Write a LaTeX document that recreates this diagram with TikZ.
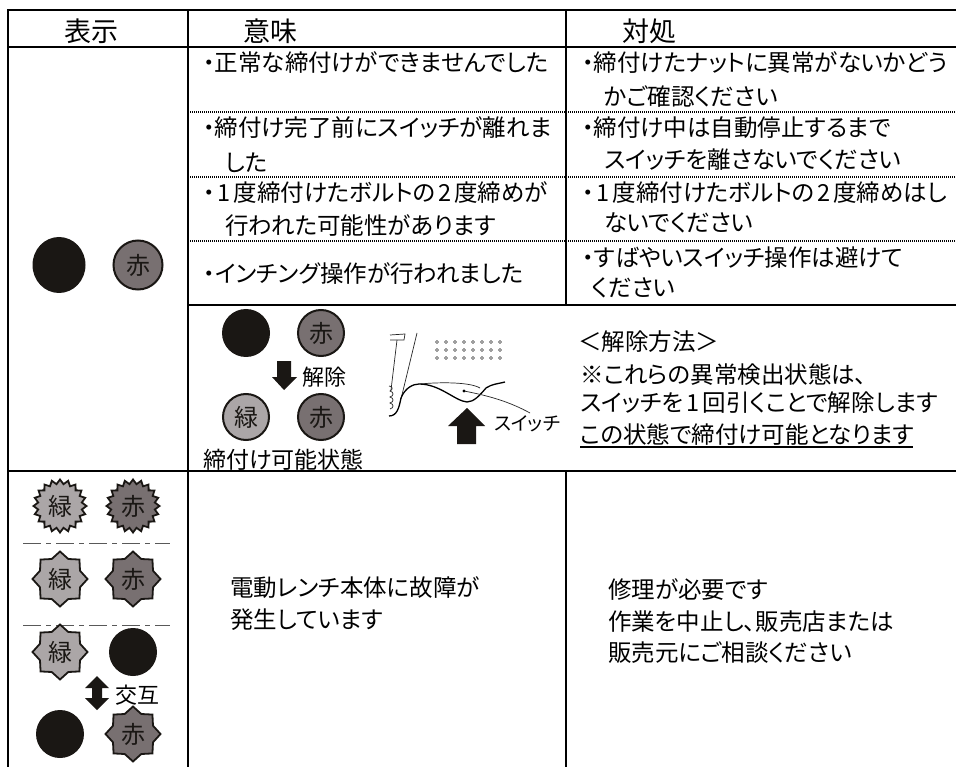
\documentclass[tikz,border=0pt]{standalone}
\usepackage{fontspec}
\usetikzlibrary{shapes.geometric,calc}
\setmainfont[RawFeature=+palt]{Noto Sans CJK JP}
\newfontfamily\fullwd{Noto Sans CJK JP}
\newcommand{\wdg}[1]{\kern3pt #1\kern3pt}
\definecolor{ink}{HTML}{1A1714}
\definecolor{redfill}{HTML}{787071}
\definecolor{greenfill}{HTML}{ABA6A7}
\tikzset{
 x=1pt,y=-1pt,
 rule/.style={line width=2.4pt,black},
 dotrule/.style={line width=1.3pt,black,dash pattern=on 1pt off 1pt},
 chain/.style={line width=0.9pt,black!65,dash pattern=on 18pt off 5pt on 5pt off 5pt},
 txt/.style={anchor=west,inner sep=0pt,font=\fontsize{23.5}{25}\selectfont,text=black},
 head/.style={anchor=center,inner sep=0pt,font=\fontsize{27}{29}\selectfont,text=black},
 dark/.style={ellipse,fill=ink,draw=none,minimum width=48pt,minimum height=48pt,inner sep=0pt},
 lampred/.style={circle,fill=redfill,draw=ink,line width=2pt,minimum size=46pt,inner sep=0pt,font=\fontsize{24}{24}\selectfont,text=ink},
 lampgreen/.style={lampred,fill=greenfill},
 star8red/.style={star,star points=8,star point ratio=1.27,fill=redfill,draw=ink,line width=1.8pt,minimum size=55pt,inner sep=0pt,font=\fontsize{24}{24}\selectfont,text=ink},
 star8green/.style={star8red,fill=greenfill},
 burstred/.style={star,star points=20,star point ratio=1.2,fill=redfill,draw=ink,line width=1.8pt,minimum size=53pt,inner sep=0pt,font=\fontsize{24}{24}\selectfont,text=ink},
 burstgreen/.style={burstred,fill=greenfill},
 small/.style={anchor=west,inner sep=0pt,font=\fontsize{22}{24}\selectfont,text=black},
 thin/.style={line width=0.7pt,black!85},
 body/.style={line width=1.3pt,black},
 hole/.style={circle,draw=black!75,line width=0.6pt,inner sep=0pt,minimum size=3pt},
 blockarrow/.style={fill=ink,draw=none},
}
\begin{document}
\begin{tikzpicture}
\useasboundingbox (0,0) rectangle (956,767);
\fill[white] (0,0) rectangle (956,767);
% grid
\draw[rule] (7,10)--(956,10);
\draw[rule] (8,47)--(956,47);
\draw[rule] (8,10)--(8,767);
\draw[rule] (188,10)--(188,767);
\draw[rule] (566,10)--(566,305);
\draw[rule] (566,471)--(566,767);
\draw[rule] (188,305)--(956,305);
\draw[rule] (8,471)--(956,471);
\foreach \yy in {112,177,241} \draw[dotrule] (188,\yy)--(956,\yy);
% header
\node[head] (h1) at (91,31) {表示};
\node[head] (h2) at (270,31) {意味};
\node[head] (h3) at (649,31) {対処};
% meaning
\node[txt] (m1) at (203,63) {・正常な締付けができませんでした};
\node[txt] (m2) at (203,128) {・締付け完了前にスイッチが離れま};
\node[txt] (m2b) at (225,163) {した};
\node[txt] (m3) at (203,193) {・\wdg{1}度締付けたボルトの\wdg{2}度締めが};
\node[txt] (m3b) at (225,226) {行われた可能性があります};
\node[txt] (m4) at (203,274) {・インチング操作が行われました};
% action
\node[txt] (a1) at (582,63) {・締付けたナットに異常がないかどう};
\node[txt] (a1b) at (604,97) {かご確認ください};
\node[txt] (a2) at (582,128) {・締付け中は自動停止するまで};
\node[txt] (a2b) at (604,160) {スイッチを離さないでください};
\node[txt] (a3) at (582,193) {・\wdg{1}度締付けたボルトの\wdg{2}度締めはし};
\node[txt] (a3b) at (604,223) {ないでください};
\node[txt] (a4) at (582,258) {・すばやいスイッチ操作は避けて};
\node[txt] (a4b) at (592,288) {ください};
% release
\node[txt] (r0) at (578,342) {{\fullwd \symbol{"FF1C}}解除方法{\fullwd \symbol{"FF1E}}};
\node[txt] (r1) at (580,375) {※これらの異常検出状態は、};
\node[txt] (r2) at (580,403) {スイッチを\wdg{1}回引くことで解除します};
\node[txt] (r3) at (580,435) {この状態で締付け可能となります};
\coordinate (ula) at (580,447);
\coordinate (ulb) at (913,447);
\draw[line width=1.4pt] (ula)--(ulb);
% lower
\node[txt] (f1) at (230,588) {電動レンチ本体に故障が};
\node[txt] (f2) at (230,620) {発生しています};
\node[txt] (g1) at (608,590) {修理が必要です};
\node[txt] (g2) at (608,622) {作業を中止し、販売店または};
\node[txt] (g3) at (608,653) {販売元にご相談ください};
% lamps, upper
\node[dark,minimum width=53pt,minimum height=56pt] (l1) at (59,265) {};
\node[lampred,minimum size=49pt] (l2) at (138,265) {赤};
\node[dark] (l3) at (246,333) {};
\node[lampred] (l4) at (321,333) {赤};
\node[lampgreen] (l5) at (246,417) {緑};
\node[lampred] (l6) at (321,417) {赤};
\fill[blockarrow] (277,361)--(291,361)--(291,377)--(297,377)--(284,390)--(272,377)--(277,377)--cycle;
\node[small] (kaijo) at (302,377) {解除};
\node[small,font=\fontsize{23}{24}\selectfont] (kano) at (203,460) {締付け可能状態};
% trigger sketch
\fill[blockarrow] (467,408)--(485,426)--(476,426)--(476,444)--(457,444)--(457,426)--(448,426)--cycle;
\node[anchor=west,inner sep=0pt,font=\fontsize{19}{20}\selectfont] (sw) at (494,424) {スイッチ};
\draw[thin] (390,335)--(405,334)--(404,340)--(390,340);
\draw[thin] (397,340)--(391,390);
\draw[thin] (417,333)--(401,399);
\draw[body] (389,416) .. controls (397,416) and (399,408) .. (401,398) .. controls (405,388) and (413,384) .. (419,384) .. controls (440,384) and (455,401) .. (467,402) .. controls (474,402) and (480,395) .. (486,388) .. controls (492,384) and (497,384) .. (505,382);
\draw[thin] (420,384) .. controls (440,382) and (470,382) .. (480,388);
\draw[thin] (389,386) .. controls (393,386) and (393,390) .. (390,391) .. controls (394,392) and (394,396) .. (390,397) .. controls (394,398) and (394,402) .. (390,403) .. controls (394,404) and (394,408) .. (390,409);
\draw[thin] (464,391) .. controls (490,396) and (510,402) .. (530,413);
\fill (464,391) circle (1.6);
\foreach \yy in {342,350,358} \foreach \xx in {437,446,455,464,473,482,491,500} \node[hole] at (\xx,\yy) {};
% faults
\node[burstgreen] (b1) at (60,506) {緑};
\node[burstred] (b2) at (133,506) {赤};
\draw[chain] (23,543)--(170,543);
\node[star8green] (s1) at (60,579) {緑};
\node[star8red] (s2) at (133,579) {赤};
\draw[chain] (23,625)--(170,625);
\node[star8green] (s3) at (60,652) {緑};
\node[dark] (d1) at (133,652) {};
\node[dark] (d2) at (60,734) {};
\node[star8red] (s4) at (133,734) {赤};
\fill[blockarrow] (97,676)--(109,688)--(102,688)--(102,698)--(109,698)--(97,710)--(85,698)--(92,698)--(92,688)--(85,688)--cycle;
\node[small] (kogo) at (115,695) {交互};
\end{tikzpicture}
\end{document}
